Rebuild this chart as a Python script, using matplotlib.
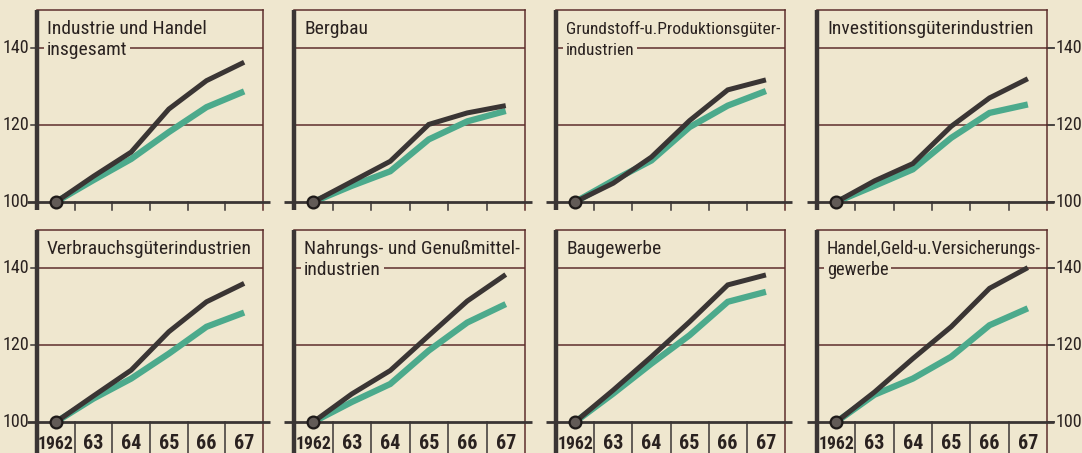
import matplotlib
matplotlib.use("Agg")
import matplotlib.pyplot as plt
from matplotlib import font_manager

# schmalste vorhandene Schrift suchen
installed = {f.name for f in font_manager.fontManager.ttflist}
condensed = sorted({f.name for f in font_manager.fontManager.ttflist
                    if f.stretch in ("condensed", "semi-condensed", "extra-condensed")})
prefs = ["Liberation Sans Narrow", "Roboto Condensed", "Open Sans Condensed",
         "DejaVu Sans Condensed", "Noto Sans Condensed"]
FONT = next((p for p in prefs if p in installed), None)
STRETCH = "normal"
if FONT is None and condensed:
    FONT = condensed[0]
    STRETCH = "condensed"
NARROW = FONT is not None
if FONT is None:
    FONT = "Liberation Sans" if "Liberation Sans" in installed else "DejaVu Sans"

plt.rcParams["font.family"] = [FONT, "DejaVu Sans"]
plt.rcParams["font.stretch"] = STRETCH

W, H = 1082, 453
BG = "#efe7cf"
DARK = "#3a3534"
GREEN = "#4caa8c"
GRID = "#5e2e2c"
INK = "#2a2220"

years = ["1962", "63", "64", "65", "66", "67"]

# Titel der Teilbilder (Zeile 1, Zeile 2)
titles = [
    ("Industrie und Handel", "insgesamt"),
    ("Bergbau", None),
    ("Grundstoff-u.Produktionsgüter-", "industrien"),
    ("Investitionsgüterindustrien", None),
    ("Verbrauchsgüterindustrien", None),
    ("Nahrungs- und Genußmittel-", "industrien"),
    ("Baugewerbe", None),
    ("Handel,Geld-u.Versicherungs-", "gewerbe"),
]

# dunkle Linie
dark_vals = [
    [100, 106.7, 113.0, 124.2, 131.6, 136.4],
    [100, 105.3, 110.6, 120.2, 123.2, 125.1],
    [100, 104.9, 111.7, 121.2, 129.2, 131.8],
    [100, 105.5, 110.0, 119.7, 127.1, 132.1],
    [100, 106.8, 113.5, 123.5, 131.3, 136.1],
    [100, 107.3, 113.4, 122.5, 131.5, 138.4],
    [100, 108.3, 117.0, 126.1, 135.7, 138.3],
    [100, 107.8, 116.5, 124.8, 134.8, 140.2],
]

# gruene Linie
green_vals = [
    [100, 105.7, 111.2, 118.2, 124.7, 128.8],
    [100, 104.2, 108.0, 116.3, 121.0, 123.7],
    [100, 105.6, 110.8, 119.5, 125.1, 128.9],
    [100, 104.2, 108.5, 116.7, 123.2, 125.4],
    [100, 106.1, 111.3, 117.8, 124.8, 128.5],
    [100, 105.2, 109.9, 118.6, 125.9, 130.7],
    [100, 107.4, 115.2, 122.6, 131.3, 133.9],
    [100, 107.1, 111.3, 117.0, 125.2, 129.6],
]

yticks = [100, 120, 140]

cols = [(37, 263), (294, 525), (556, 785), (817, 1047)]
rows = [(10, 202), (230, 422)]

fig = plt.figure(figsize=(W / 100, H / 100), dpi=100, facecolor=BG)
renderer = fig.canvas.get_renderer()

TITLE_FS = 14 if NARROW else 12
TICK_FS = 13.5 if NARROW else 11.5
YEAR_FS = 14.5 if NARROW else 12

xs = [i + 0.5 for i in range(len(years))]


def fit(txt, max_px):
    # Schrift verkleinern, bis der Text in die Breite passt
    fs = txt.get_fontsize()
    while txt.get_window_extent(renderer).width > max_px and fs > 7:
        fs -= 0.25
        txt.set_fontsize(fs)
    return txt.get_fontsize()


for k in range(8):
    r, c = divmod(k, 4)
    l, rt = cols[c]
    t, b = rows[r]
    ax = fig.add_axes([l / W, 1 - b / H, (rt - l) / W, (b - t) / H])
    ax.set_facecolor(BG)
    ax.set_xlim(0, 6)
    ax.set_ylim(100, 150)
    px_x = 6 / (rt - l)
    px_y = 50 / (b - t)

    for s in ax.spines.values():
        s.set_visible(False)
    ax.set_xticks([])
    ax.set_yticks([])

    # Rahmen und Gitter
    bottom_ext = 100 - (31 if r == 1 else 8) * px_y
    ax.plot([0, 0], [bottom_ext, 150], color=DARK, lw=3.2, clip_on=False,
            solid_capstyle="butt", zorder=5)
    ax.plot([6, 6], [bottom_ext, 150], color=GRID, lw=1.1, clip_on=False, zorder=4)
    ax.plot([0, 6], [150, 150], color=GRID, lw=1.1, clip_on=False, zorder=4)
    for g in (120, 140):
        ax.plot([0, 6], [g, g], color=GRID, lw=1.1, zorder=1)
    for i in range(1, 6):
        ax.plot([i, i], [bottom_ext, 100], color=DARK, lw=1.1, clip_on=False, zorder=4)
    ax.plot([-10 * px_x, 6 + 7 * px_x], [100, 100], color=DARK, lw=2.0,
            clip_on=False, solid_capstyle="butt", zorder=4)

    # Achsenbeschriftung
    if c == 0:
        for v in yticks:
            if v != 100:
                ax.plot([-6 * px_x, 0], [v, v], color=DARK, lw=1.1, clip_on=False)
            lab = ax.text(-8 * px_x, v, str(v), ha="right", va="center",
                          fontsize=TICK_FS, color=INK)
            fit(lab, 27)
    if c == 3:
        for v in yticks:
            ax.plot([6, 6 + 7 * px_x], [v, v], color=DARK, lw=1.3, clip_on=False)
            lab = ax.text(6 + 9 * px_x, v, str(v), ha="left", va="center",
                          fontsize=TICK_FS, color=INK)
            fit(lab, 27)
    if r == 1:
        for x, lab in zip(xs, years):
            yt = ax.text(x, 100 - 27 * px_y, lab, ha="center", va="baseline",
                         fontsize=YEAR_FS, fontweight="bold", color=INK)
            fit(yt, 36)

    # Kurven
    ax.plot(xs, green_vals[k], color=GREEN, lw=4.5, solid_capstyle="butt",
            solid_joinstyle="miter", zorder=2)
    ax.plot(xs, dark_vals[k], color=DARK, lw=3.6, solid_capstyle="butt",
            solid_joinstyle="miter", zorder=3)
    ax.plot(xs[0], 100, "o", ms=8.5, mfc="#625b57", mec="#1e1a19", mew=1.6,
            zorder=6, clip_on=False)

    # Titel
    t1, t2 = titles[k]
    tt = ax.text(10 * px_x, 145, t1, ha="left", va="center", fontsize=TITLE_FS,
                 color=INK, zorder=7)
    fit(tt, rt - l - 12)
    if t2:
        ax.text(10 * px_x, 139.5, t2, ha="left", va="center",
                fontsize=tt.get_fontsize(), color=INK, zorder=7,
                bbox=dict(boxstyle="square,pad=0.15", fc=BG, ec="none"))

fig.savefig("out.png", dpi=100, facecolor=BG)
